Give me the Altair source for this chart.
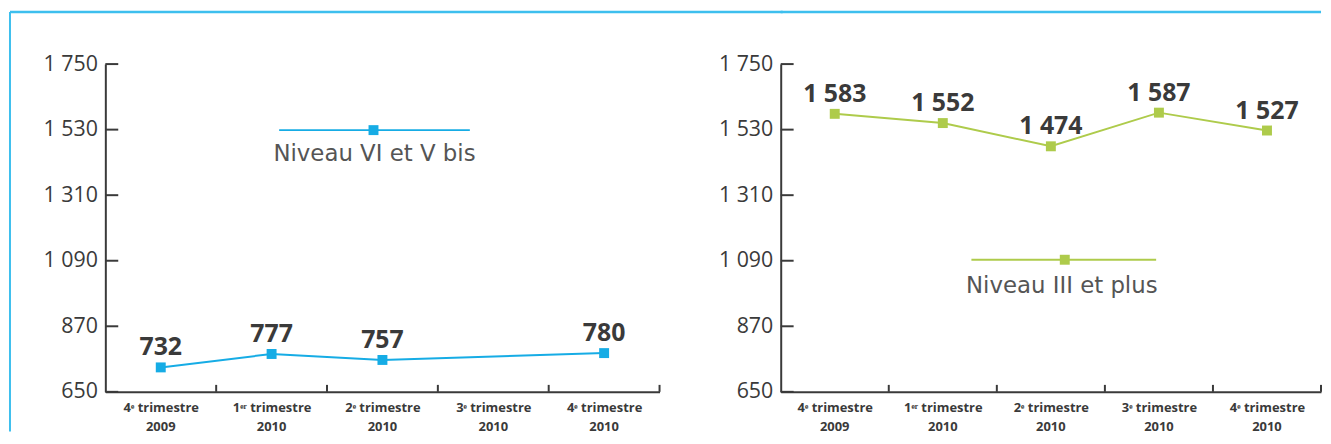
import altair as alt
import pandas as pd

# ---------------- data ----------------
quarters = ["4ᵉ trimestre", "1ᵉʳ trimestre", "2ᵉ trimestre", "3ᵉ trimestre", "4ᵉ trimestre"]
years = ["2009", "2010", "2010", "2010", "2010"]
categories = [f"{q}|{y}" for q, y in zip(quarters, years)]
left_values = [732, 777, 757, None, 780]
right_values = [1583, 1552, 1474, 1587, 1527]
y_ticks = [650, 870, 1090, 1310, 1530, 1750]
left_name = "Niveau VI et V bis"
right_name = "Niveau III et plus"

# ---------------- styles ----------------
BLUE = "#16ACE5"
GREEN = "#AECB4B"
FRAME = "#3DBFEE"
INK = "#3a3a3a"
H = 330
W_L, W_R = 558, 544
GAP = 122
FONT = "Open Sans"


def fmt(v):
    return f"{int(v):,}".replace(",", " ")


one = pd.DataFrame({"k": [0]})


def panel(values, color, name, width, leg, frame_x1, frame_x2, vertical):
    df = pd.DataFrame({"cat": categories, "value": values}).dropna()
    df["label"] = df["value"].map(fmt)

    xscale = alt.Scale(type="band", domain=categories, paddingInner=0, paddingOuter=0)
    yscale = alt.Scale(domain=[650, 1750], nice=False, zero=False)
    xaxis = alt.Axis(title=None, labelExpr="split(datum.label, '|')[0]",
                     tickBand="extent", ticks=False, grid=False,
                     domainColor=INK, domainWidth=2,
                     labelFont=FONT, labelFontWeight="bold", labelFontSize=13,
                     labelColor=INK, labelPadding=10, labelAngle=0)
    yaxis = alt.Axis(title=None, values=y_ticks,
                     labelExpr="replace(format(datum.value, ','), ',', ' ')",
                     ticks=False, grid=False, domainColor=INK, domainWidth=2,
                     labelFont=FONT, labelFontSize=21.5, labelColor=INK,
                     labelPadding=8)

    x = alt.X("cat:N", sort=categories, scale=xscale, axis=xaxis)
    y = alt.Y("value:Q", scale=yscale, axis=yaxis)

    base = alt.Chart(df)
    line = base.mark_line(color=color, strokeWidth=2).encode(x=x, y=y)
    pts = base.mark_square(color=color, size=100, opacity=1).encode(x=x, y=y)
    txt = base.mark_text(font=FONT, fontWeight="bold", fontSize=25, color=INK,
                         baseline="alphabetic", dy=-12).encode(x=x, y=y, text="label:N")

    cats_df = pd.DataFrame({"cat": categories, "year": years})
    # inward ticks
    yt = alt.Chart(pd.DataFrame({"value": y_ticks})).mark_rule(
        color=INK, strokeWidth=2).encode(
        y=alt.Y("value:Q", scale=yscale, axis=yaxis),
        x=alt.value(0), x2=alt.value(13))
    xt = alt.Chart(cats_df).mark_rule(
        color=INK, strokeWidth=2).encode(
        x=alt.X("cat:N", sort=categories, scale=xscale, axis=xaxis, bandPosition=1),
        y=alt.value(H), y2=alt.value(H - 7))
    # second line of the category labels (year)
    yr = alt.Chart(cats_df).mark_text(
        font=FONT, fontWeight="bold", fontSize=13, color=INK,
        align="center", baseline="alphabetic").encode(
        x=alt.X("cat:N", sort=categories, scale=xscale, axis=xaxis),
        y=alt.value(H + 39), text="year:N")

    # legend drawn in the plot
    lx1, lx2, ly, sx, tx, ty = leg
    lrule = alt.Chart(one).mark_rule(color=color, strokeWidth=2).encode(
        x=alt.value(lx1), x2=alt.value(lx2), y=alt.value(ly))
    lsq = alt.Chart(one).mark_square(color=color, size=100, opacity=1).encode(
        x=alt.value(sx), y=alt.value(ly))
    ltxt = alt.Chart(one).mark_text(text=name, font="DejaVu Sans",
                                    fontSize=23, color="#555555",
                                    align="center", baseline="alphabetic").encode(
        x=alt.value(tx), y=alt.value(ty))

    # frame
    ftop = alt.Chart(one).mark_rule(color=FRAME, strokeWidth=2.5).encode(
        x=alt.value(frame_x1), x2=alt.value(frame_x2), y=alt.value(-52.5))
    layers = [line, pts, txt, yt, xt, yr, lrule, lsq, ltxt, ftop]
    if vertical:
        fv = alt.Chart(one).mark_rule(color=FRAME, strokeWidth=2).encode(
            x=alt.value(frame_x1), y=alt.value(-52.5), y2=alt.value(370))
        layers.append(fv)

    return alt.layer(*layers).properties(width=width, height=H)


left = panel(left_values, BLUE, left_name, W_L,
             (175, 367, 66.5, 270, 271, 98), -96, W_L + GAP + 2, True)
right = panel(right_values, GREEN, right_name, W_R,
              (192, 378, 197, 286, 283, 230), 0, W_R, False)

chart = alt.hconcat(left, right, spacing=GAP, bounds="flush").properties(
    padding={"left": 0, "top": 1, "right": 0, "bottom": 0}
).configure_view(stroke=None)

chart.save("out.html", embed_options={"renderer": "svg", "actions": False})
